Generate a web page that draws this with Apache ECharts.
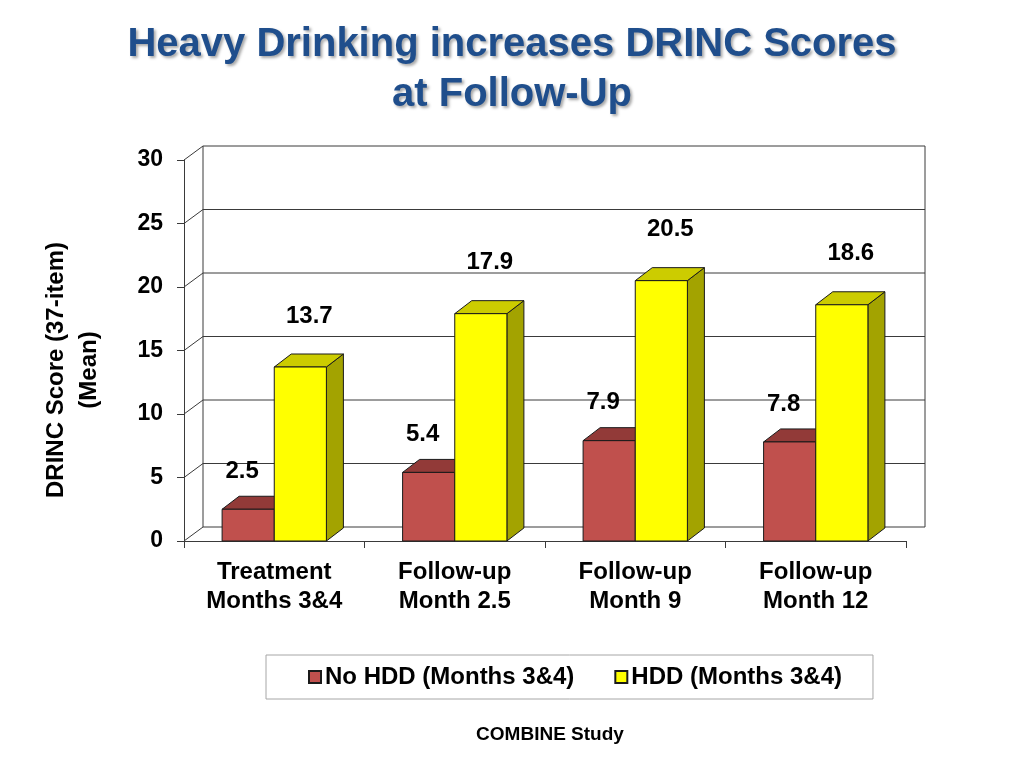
<!DOCTYPE html>
<html>
<head>
<meta charset="utf-8">
<script src="https://cdn.jsdelivr.net/npm/echarts@6/dist/echarts.min.js"></script>
<style>
  html, body { margin: 0; padding: 0; background: #fff; }
  #chart { width: 1024px; height: 768px; }
</style>
</head>
<body>
<div id="chart"></div>
<script>
// ---- data ----
const categories = ['Treatment\nMonths 3&4', 'Follow-up\nMonth 2.5', 'Follow-up\nMonth 9', 'Follow-up\nMonth 12'];
const seriesNames = ['No HDD (Months 3&4)', 'HDD (Months 3&4)'];
const noHddValues = [2.5, 5.4, 7.9, 7.8];
const hddValues = [13.7, 17.9, 20.5, 18.6];
const yTicks = [0, 5, 10, 15, 20, 25, 30];

// ---- style ----
const FONT = '"Liberation Sans", Arial, sans-serif';
const WALL_DX = 19, WALL_DY = -14;   // depth of the chart walls
const BAR_DX = 17, BAR_DY = -13;     // depth of the bars
const BAR_FRAC = 52 / 180;           // bar width as fraction of band

const palettes = [
  { front: '#C0504D', top: '#923A38', side: '#7E2F2D', labelDx: -6, labelDy: -38 },
  { front: '#FFFF00', top: '#CCCC00', side: '#A3A300', labelDx: 9, labelDy: -51 }
];

const chart = echarts.init(document.getElementById('chart'));

function makeBarRender(si) {
  const pal = palettes[si];
  return function (params, api) {
    const idx = api.value(0);
    const val = api.value(1);
    const top = api.coord([idx, val]);
    const base = api.coord([idx, 0]);
    const band = api.size([1, 0])[0];
    const w = band * BAR_FRAC;
    const xl = si === 0 ? top[0] - w : top[0];
    const xr = xl + w;
    const yt = top[1], yb = base[1];
    const stroke = { stroke: '#1a1a1a', lineWidth: 1 };
    return {
      type: 'group',
      children: [
        { type: 'polygon', shape: { points: [[xr, yt], [xr + BAR_DX, yt + BAR_DY], [xr + BAR_DX, yb + BAR_DY], [xr, yb]] },
          style: Object.assign({ fill: pal.side }, stroke) },
        { type: 'polygon', shape: { points: [[xl, yt], [xr, yt], [xr + BAR_DX, yt + BAR_DY], [xl + BAR_DX, yt + BAR_DY]] },
          style: Object.assign({ fill: pal.top }, stroke) },
        { type: 'rect', shape: { x: xl, y: yt, width: w, height: yb - yt },
          style: Object.assign({ fill: pal.front }, stroke) },
        { type: 'text', z2: 100,
          style: { text: String(val), x: (xl + xr) / 2 + pal.labelDx, y: yt + pal.labelDy,
                   align: 'center', verticalAlign: 'middle',
                   fontSize: 24, fontWeight: 'bold', fontFamily: FONT, fill: '#000' } }
      ]
    };
  };
}

function wallRender(params, api) {
  const v = api.value(1);
  const cs = params.coordSys;
  const x0 = cs.x, x1 = cs.x + cs.width;
  const y = api.coord([0, v])[1];
  const y0 = api.coord([0, 0])[1];
  const ls = { stroke: '#3a3a3a', lineWidth: 1 };
  const children = [
    { type: 'line', shape: { x1: x0, y1: y, x2: x0 + WALL_DX, y2: y + WALL_DY }, style: ls },
    { type: 'line', shape: { x1: x0 + WALL_DX, y1: y + WALL_DY, x2: x1 + WALL_DX, y2: y + WALL_DY }, style: ls }
  ];
  if (v === yTicks[yTicks.length - 1]) {
    children.push({ type: 'line', shape: { x1: x0 + WALL_DX, y1: y + WALL_DY, x2: x0 + WALL_DX, y2: y0 + WALL_DY }, style: ls });
    children.push({ type: 'line', shape: { x1: x1 + WALL_DX, y1: y + WALL_DY, x2: x1 + WALL_DX, y2: y0 + WALL_DY }, style: ls });
  }
  return { type: 'group', children: children };
}

const option = {
  backgroundColor: '#ffffff',
  animation: false,
  textStyle: { fontFamily: FONT },
  title: {
    text: 'Heavy Drinking increases DRINC Scores\nat Follow-Up',
    left: 'center',
    top: 15,
    textStyle: {
      fontFamily: FONT, fontSize: 40, fontWeight: 'bold', color: '#1F4E8C', lineHeight: 50,
      textShadowColor: 'rgba(0,0,0,0.35)', textShadowBlur: 3, textShadowOffsetX: 2, textShadowOffsetY: 2
    }
  },
  legend: {
    data: seriesNames,
    left: 266,
    top: 655,
    orient: 'horizontal',
    icon: 'rect',
    itemWidth: 12,
    itemHeight: 12,
    itemGap: 40,
    padding: [10, 31, 10, 42],
    borderColor: '#a6a6a6',
    borderWidth: 1,
    textStyle: { fontFamily: FONT, fontSize: 24, fontWeight: 'bold', color: '#000', padding: [0, 0, 0, -1] }
  },
  grid: { left: 184, right: 118, top: 160, bottom: 227, containLabel: false },
  xAxis: {
    type: 'category',
    data: categories,
    boundaryGap: true,
    axisLine: { show: true, lineStyle: { color: '#3a3a3a', width: 1 } },
    axisTick: { show: true, length: 7, interval: 0, lineStyle: { color: '#3a3a3a' } },
    axisLabel: { interval: 0, margin: 17, fontSize: 24, fontWeight: 'bold', color: '#000', lineHeight: 29, fontFamily: FONT },
    splitLine: { show: false }
  },
  yAxis: {
    type: 'value',
    min: 0, max: 30, interval: 5,
    axisLine: { show: true, lineStyle: { color: '#3a3a3a', width: 1 } },
    axisTick: { show: true, length: 7, lineStyle: { color: '#3a3a3a' } },
    axisLabel: { margin: 21, fontSize: 23, fontWeight: 'bold', color: '#000', fontFamily: FONT },
    splitLine: { show: false }
  },
  graphic: [
    { type: 'text', x: 73, y: 370, rotation: Math.PI / 2,
      style: { text: 'DRINC Score (37-item)\n(Mean)', align: 'center', verticalAlign: 'middle',
               fontSize: 24, fontWeight: 'bold', fontFamily: FONT, fill: '#000', lineHeight: 33 } },
    { type: 'text', x: 550, y: 735,
      style: { text: 'COMBINE Study', align: 'center', verticalAlign: 'middle',
               fontSize: 19, fontWeight: 'bold', fontFamily: FONT, fill: '#000' } }
  ],
  series: [
    { name: 'walls', type: 'custom', z: 1, silent: true, renderItem: wallRender,
      data: yTicks.map(v => [0, v]) },
    { name: seriesNames[0], type: 'custom', z: 2, renderItem: makeBarRender(0),
      itemStyle: { color: palettes[0].front, borderColor: '#1a1a1a', borderWidth: 1 },
      data: noHddValues.map((v, i) => [i, v]) },
    { name: seriesNames[1], type: 'custom', z: 3, renderItem: makeBarRender(1),
      itemStyle: { color: palettes[1].front, borderColor: '#1a1a1a', borderWidth: 1 },
      data: hddValues.map((v, i) => [i, v]) }
  ]
};

chart.setOption(option);
</script>
</body>
</html>
